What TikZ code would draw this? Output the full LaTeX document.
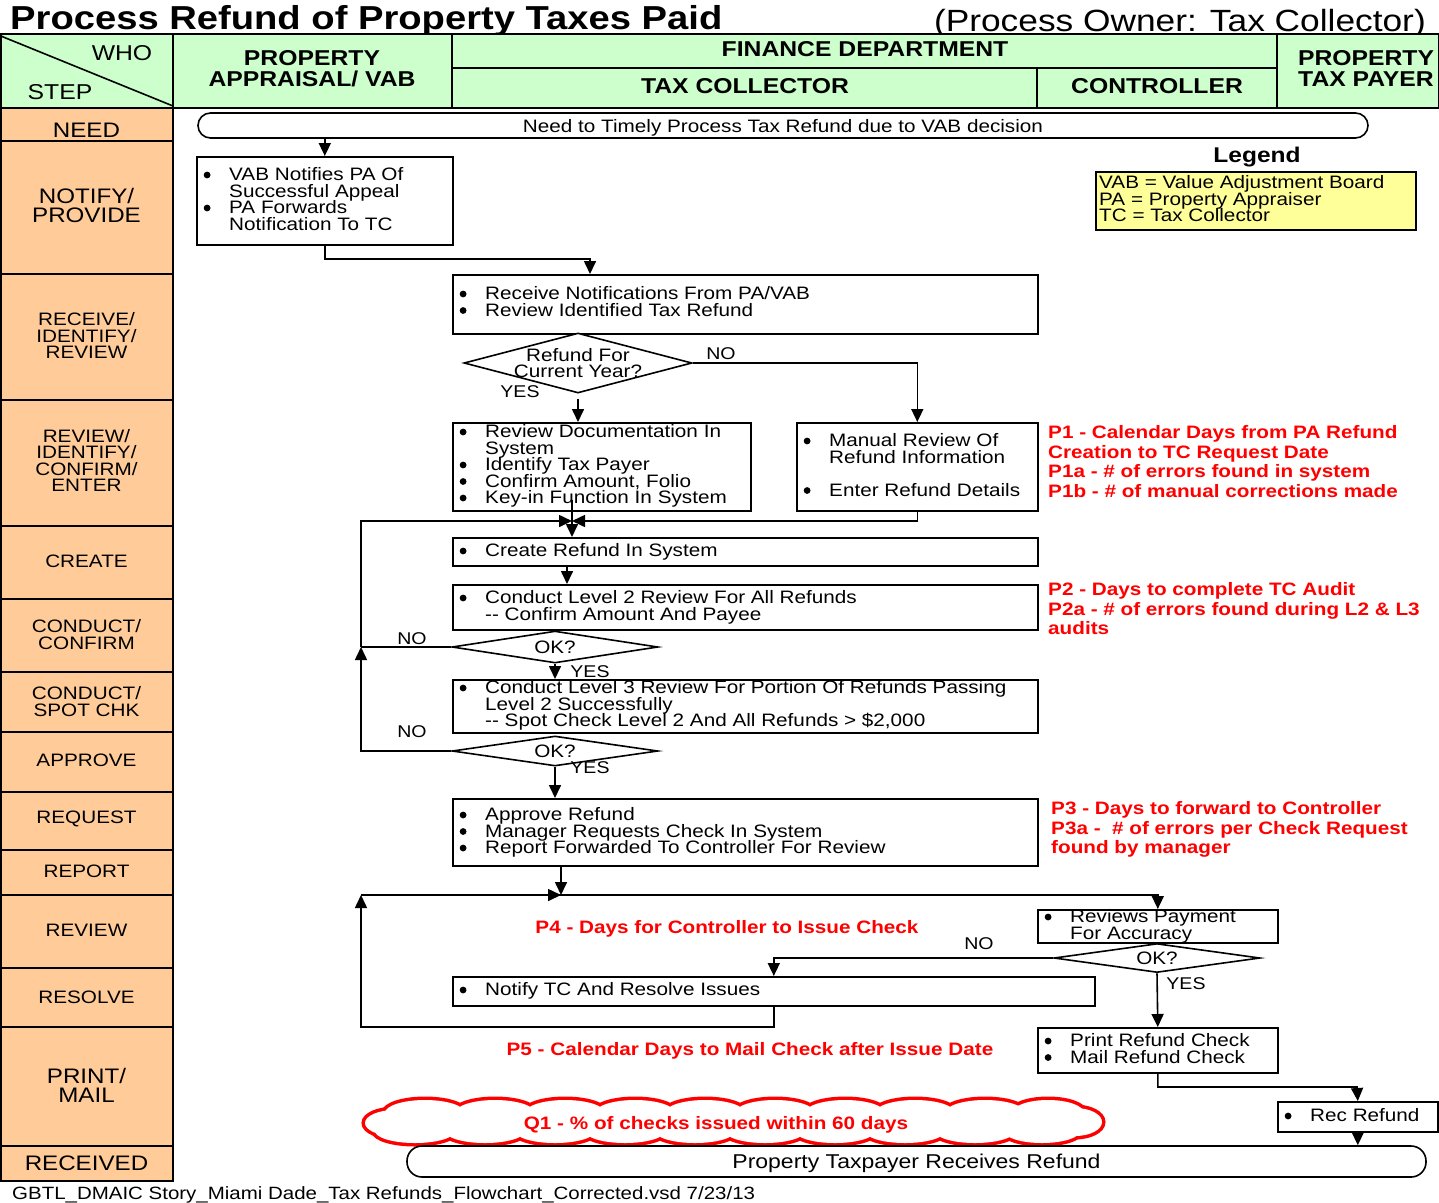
\documentclass[tikz,border=0pt]{standalone}
\usepackage{fontspec}
\setmainfont{Liberation Sans}[FakeStretch=1.15]
\usetikzlibrary{arrows.meta,shapes.geometric,calc}
\definecolor{hdr}{HTML}{CCFFCC}
\definecolor{stp}{HTML}{FFCC99}
\definecolor{lgd}{HTML}{FFFF99}
\definecolor{mred}{HTML}{FF0000}
\newcommand\myfs[2]{\fontsize{#1}{#2}\selectfont\lineskiplimit=-100pt\relax}
\newcommand\mybul{\makebox[26pt][l]{\hspace{0.5pt}\raisebox{2.3pt}{\tikz\fill (0,0) circle (3.4pt);}}}
\newcommand\myind{\hspace*{26pt}}
\newcommand\topst{\rule{0pt}{14pt}}
\begin{document}
\begin{tikzpicture}[x=1pt,y=-1pt,
  hline/.style={line width=1.6pt},
  box/.style={draw, line width=1.6pt, fill=white, inner sep=0pt, anchor=north west},
  txt/.style={anchor=north west, inner sep=0pt, align=left, font=\myfs{18}{16.5}},
  mtr/.style={anchor=north west, inner sep=0pt, align=left, text=mred, font=\myfs{18}{19.6}\bfseries},
  mtrc/.style={anchor=base, inner sep=0pt, text=mred, font=\myfs{18}{19.6}\bfseries},
  yn/.style={anchor=base, inner sep=0pt, font=\myfs{17}{17}},
  steplbl/.style={inner sep=0pt, align=center, font=\myfs{18}{16.5}},
  steplbb/.style={inner sep=0pt, align=center, font=\myfs{21}{19}},
  hd/.style={inner sep=0pt, align=center, font=\myfs{21.5}{21}\bfseries},
  dia/.style={diamond, draw, line width=1.6pt, fill=white, inner sep=-3pt, align=center, font=\myfs{18}{16}},
  term/.style={draw, line width=1.6pt, fill=white, inner sep=0pt, text height=13pt, text depth=0pt},
  arr/.style={line width=1.6pt, -{Triangle[length=13pt,width=12pt]}},
  ln/.style={line width=1.6pt}]
\useasboundingbox (0,0) rectangle (1439,1202);
% ---------- title
\node[anchor=base west, inner sep=0pt, font=\myfs{33.2}{33}\bfseries] (title) at (10,29) {Process Refund of Property Taxes Paid};
\node[anchor=base east, inner sep=0pt, font=\myfs{30.7}{31}] (owner) at (1426,31) {(Process Owner: Tax Collector)};
% ---------- header
\draw[hline, fill=hdr] (0.8,34) rectangle (173,108);
\draw[hline] (0.8,36) -- (173,106);
\draw[hline, fill=hdr] (173,34) rectangle (452,108);
\draw[hline, fill=hdr] (452,34) rectangle (1277,68);
\draw[hline, fill=hdr] (452,68) rectangle (1037,108);
\draw[hline, fill=hdr] (1037,68) rectangle (1277,108);
\draw[hline, fill=hdr] (1277,34) rectangle (1439,108);
\node[anchor=base, inner sep=0pt, font=\myfs{21.5}{21}] (who) at (122,60.7) {WHO};
\node[anchor=base, inner sep=0pt, font=\myfs{21.5}{21}] (stp) at (60,99.7) {STEP};
\node[hd] (hpa) at (312,68.5) {PROPERTY\\APPRAISAL/ VAB};
\node[hd, anchor=base] (hfin) at (865,56.7) {FINANCE DEPARTMENT};
\node[hd, anchor=base] (htc) at (745,93.7) {TAX COLLECTOR};
\node[hd, anchor=base] (hct) at (1157,93.7) {CONTROLLER};
\node[hd] (hptp) at (1366,68.5) {PROPERTY\\TAX PAYER};
% ---------- step column
\foreach \a/\b in {108/141,141/274,274/400,400/526,526/599,599/672,672/732,732/792,792/850,850/895,895/968,968/1027,1027/1146,1146/1181}
  \draw[hline, fill=stp] (0.8,\a) rectangle (173,\b);
\node[steplbb] (s1) at (86.5,130) {NEED};
\node[steplbb] (s2) at (86.5,205.5) {NOTIFY/\\PROVIDE};
\node[steplbl] (s3) at (86.5,335.5) {RECEIVE/\\IDENTIFY/\\REVIEW};
\node[steplbl] (s4) at (86.5,460.5) {REVIEW/\\IDENTIFY/\\CONFIRM/\\ENTER};
\node[steplbl] (s5) at (86.5,561) {CREATE};
\node[steplbl] (s6) at (86.5,634.5) {CONDUCT/\\CONFIRM};
\node[steplbl] (s7) at (86.5,701.5) {CONDUCT/\\SPOT CHK};
\node[steplbl] (s8) at (86.5,760) {APPROVE};
\node[steplbl] (s9) at (86.5,819) {REQUEST};
\node[steplbl] (s10) at (86.5,871) {REPORT};
\node[steplbl] (s11) at (86.5,930) {REVIEW};
\node[steplbl] (s12) at (86.5,997) {RESOLVE};
\node[steplbb] (s13) at (86.5,1085.5) {PRINT/\\MAIL};
\node[steplbb] (s14) at (86.5,1163) {RECEIVED};
% ---------- legend
\node[anchor=base, inner sep=0pt, font=\myfs{21.3}{21}\bfseries] (lgt) at (1257,162.6) {Legend};
\node[draw, line width=1.5pt, fill=lgd, minimum width=320pt, minimum height=58pt, anchor=north west, inner sep=0pt] (lg) at (1095,171) {};
\node[txt] (lgtxt) at (1099,174.5) {\topst VAB = Value Adjustment Board\\PA = Property Appraiser\\TC = Tax Collector};
% ---------- cloud
\def\cloudlist{425/1113/40/13,495/1113/40/13,565/1113/40/13,635/1113/40/13,705/1113/40/13,775/1113/40/13,845/1113/40/13,915/1113/40/13,985/1113/40/13,1048/1113/36/13,415/1131/40/12,485/1131/40/12,555/1131/40/12,625/1131/40/12,695/1131/40/12,765/1131/40/12,835/1131/40/12,905/1131/40/12,975/1131/40/12,1042/1131/38/12,395/1123/30/13,1075/1122/27/14}
\foreach \cx/\cy/\rx/\ry in \cloudlist
  \draw[mred, line width=7pt] (\cx,\cy) ellipse [x radius=\rx pt, y radius=\ry pt];
\foreach \cx/\cy/\rx/\ry in \cloudlist
  \fill[white] (\cx,\cy) ellipse [x radius=\rx pt, y radius=\ry pt];
\fill[white] (400,1113) rectangle (1060,1131);
\node[mtrc] (q1) at (716,1129.5) {Q1 - \% of checks issued within 60 days};
% ---------- terminators
\node[term, font=\myfs{18}{18}, minimum width=1170pt, minimum height=25pt, rounded corners=12.5pt] (start) at (783,125.5) {Need to Timely Process Tax Refund due to VAB decision};
\node[term, font=\myfs{20}{20}, text height=14.3pt, minimum width=1019pt, minimum height=31pt, rounded corners=15pt] (endt) at (916.5,1161.5) {Property Taxpayer Receives Refund};
% ---------- process boxes
\node[box, minimum width=256pt, minimum height=88pt] (b1) at (196,156) {};
\node[txt] (t1) at (203,166.5) {\topst\mybul VAB Notifies PA Of\\\myind Successful Appeal\\\mybul PA Forwards\\\myind Notification To TC};
\node[box, minimum width=585pt, minimum height=59pt] (b2) at (452,274) {};
\node[txt] (t2) at (459,285.5) {\topst\mybul Receive Notifications From PA/VAB\\\mybul Review Identified Tax Refund};
\node[dia, aspect=3.8, minimum width=228pt, minimum height=60pt] (d1) at (578,363) {Refund For\\Current Year?};
\node[box, minimum width=298pt, minimum height=88pt] (b3) at (452,422) {};
\node[txt] (t3) at (459,423.5) {\topst\mybul Review Documentation In\\\myind System\\\mybul Identify Tax Payer\\\mybul Confirm Amount, Folio\\\mybul Key-in Function In System};
\node[box, minimum width=241pt, minimum height=88pt] (b4) at (796,422) {};
\node[txt] (t4) at (803,432.5) {\topst\mybul Manual Review Of\\\myind Refund Information\\\mbox{}\\\mybul Enter Refund Details};
\node[box, minimum width=585pt, minimum height=28pt] (create) at (452,537) {};
\node[txt] (t5) at (459,542.5) {\topst\mybul Create Refund In System};
\node[box, minimum width=585pt, minimum height=45pt] (l2) at (452,584) {};
\node[txt] (t6) at (459,589.5) {\topst\mybul Conduct Level 2 Review For All Refunds\\\myind -{}- Confirm Amount And Payee};
\node[dia, aspect=6.4, minimum width=206pt, minimum height=32pt] (ok1) at (555,647) {OK?};
\node[box, minimum width=585pt, minimum height=53pt] (l3) at (452,679) {};
\node[txt] (t7) at (459,679.5) {\topst\mybul Conduct Level 3 Review For Portion Of Refunds Passing\\\myind Level 2 Successfully\\\myind -{}- Spot Check Level 2 And All Refunds > \$2,000};
\node[dia, aspect=6.4, minimum width=206pt, minimum height=30pt] (ok2) at (555,751) {OK?};
\node[box, minimum width=585pt, minimum height=67pt] (appr) at (452,798) {};
\node[txt] (t8) at (459,806.5) {\topst\mybul Approve Refund\\\mybul Manager Requests Check In System\\\mybul Report Forwarded To Controller For Review};
\node[box, minimum width=240pt, minimum height=33pt] (rc) at (1037,909) {};
\node[txt] (t9) at (1044,908.5) {\topst\mybul Reviews Payment\\\myind For Accuracy};
\node[dia, aspect=6.4, minimum width=206pt, minimum height=29pt] (ok3) at (1157,958) {OK?};
\node[box, minimum width=642pt, minimum height=29pt] (notify) at (452,976) {};
\node[txt] (t10) at (459,981.5) {\topst\mybul Notify TC And Resolve Issues};
\node[box, minimum width=240pt, minimum height=45pt] (print) at (1037,1027) {};
\node[txt] (t11) at (1044,1032.5) {\topst\mybul Print Refund Check\\\mybul Mail Refund Check};
\node[box, minimum width=160pt, minimum height=30pt] (rec) at (1277,1101) {};
\node[txt] (t12) at (1284,1107.5) {\topst\mybul Rec Refund};
% ---------- metrics
\node[mtr] (p1) at (1048,424.5) {\topst P1 - Calendar Days from PA Refund\\Creation to TC Request Date\\P1a - \# of errors found in system\\P1b - \# of manual corrections made};
\node[mtr] (p2) at (1048,581.5) {\topst P2 - Days to complete TC Audit\\P2a - \# of errors found during L2 \& L3\\audits};
\node[mtr] (p3) at (1051,800.5) {\topst P3 - Days to forward to Controller\\P3a -\ \ \# of errors per Check Request\\found by manager};
\node[mtrc] (p4) at (727,933.5) {P4 - Days for Controller to Issue Check};
\node[mtrc] (p5) at (750,1055.5) {P5 - Calendar Days to Mail Check after Issue Date};
% ---------- yes/no labels
\node[yn] (n1) at (721,359) {NO};
\node[yn] (y1) at (520,397) {YES};
\node[yn] (n2) at (412,644) {NO};
\node[yn] (y2) at (590,677) {YES};
\node[yn] (n3) at (412,737) {NO};
\node[yn] (y3) at (590,773) {YES};
\node[yn] (n4) at (979,949) {NO};
\node[yn] (y4) at (1186,989) {YES};
% ---------- helper coordinates
\coordinate (j2) at (590,259);
\coordinate (m) at (572,521);
\coordinate (m0) at (572,500);
\coordinate (lpB) at (361,647);
\coordinate (x567) at (567,565);
\coordinate (k) at (561,895);
\coordinate (lpC) at (361,895);
\coordinate (lpD) at (361,1027);
\coordinate (jr) at (1357,1087);
% ---------- connectors
\draw[arr] (start.south -| b1.north) -- (b1.north);
\draw[arr] (b1.south) |- (j2) -- (j2 |- b2.north);
\draw[arr] (d1.east) -| (b4.north);
\draw[arr] ([yshift=-5pt]d1.south) -- (d1.south |- b3.north);
\draw[arr] (b4.south) |- (m);
\draw[arr] (ok2.west) -| (lpB);
\draw[ln] (ok1.west) -- (lpB);
\draw[arr] (lpB) |- (m);
\draw[arr] (m0) -- (m0 |- create.north);
\draw[arr] (x567) -- (x567 |- l2.north);
\draw[arr] (ok1.south) -- (ok1.south |- l3.north);
\draw[arr] (ok2.south) -- (ok2.south |- appr.north);
\draw[arr] (appr.south -| k) -- (k);
\draw[arr] (lpC) -| (rc.north);
\draw[arr] (notify.south) |- (lpD) -- (lpC);
\draw[arr] (lpC) -- (k);
\draw[arr] (ok3.west) -| (notify.north);
\draw[arr] (ok3.south) -- (print.north);
\draw[arr] (print.south) |- (jr) -- (rec.north);
\draw[arr] (rec.south) -- (rec.south |- endt.north);
% ---------- footer
\node[anchor=base west, inner sep=0pt, font=\myfs{17.8}{17.8}] (foot) at (12,1199) {GBTL\_DMAIC Story\_Miami Dade\_Tax Refunds\_Flowchart\_Corrected.vsd 7/23/13};
\end{tikzpicture}
\end{document}
